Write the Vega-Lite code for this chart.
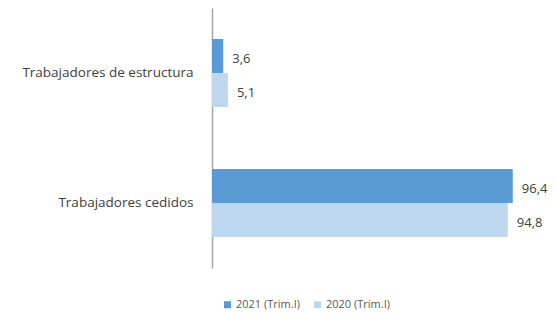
{
  "$schema": "https://vega.github.io/schema/vega-lite/v6.json",
  "autosize": {"type": "none"},
  "padding": {"left": 212, "top": 8, "right": 32, "bottom": 46},
  "width": 312,
  "height": 260,
  "background": "white",
  "config": {
    "view": {"stroke": null},
    "font": "Open Sans",
    "locale": {"number": {"decimal": ",", "thousands": ".", "grouping": [3], "currency": ["", " €"]}}
  },
  "data": {
    "values": [
      {"categoria": "Trabajadores de estructura", "serie": "2021 (Trim.I)", "valor": 3.6},
      {"categoria": "Trabajadores de estructura", "serie": "2020 (Trim.I)", "valor": 5.1},
      {"categoria": "Trabajadores cedidos", "serie": "2021 (Trim.I)", "valor": 96.4},
      {"categoria": "Trabajadores cedidos", "serie": "2020 (Trim.I)", "valor": 94.8}
    ]
  },
  "encoding": {
    "y": {
      "field": "categoria",
      "type": "nominal",
      "sort": ["Trabajadores de estructura", "Trabajadores cedidos"],
      "scale": {"paddingInner": 0.477, "paddingOuter": 0.2385},
      "axis": {
        "title": null,
        "ticks": false,
        "domainColor": "#a6a6a6",
        "domainWidth": 1.5,
        "labelPadding": 19,
        "labelFontSize": 13.5,
        "labelColor": "#404040",
        "labelLimit": 300
      }
    },
    "yOffset": {
      "field": "serie",
      "type": "nominal",
      "sort": ["2021 (Trim.I)", "2020 (Trim.I)"],
      "scale": {"paddingInner": 0, "paddingOuter": 0}
    },
    "x": {
      "field": "valor",
      "type": "quantitative",
      "scale": {"domain": [0, 100]},
      "axis": null
    }
  },
  "layer": [
    {
      "mark": {"type": "bar", "clip": false},
      "encoding": {
        "color": {
          "field": "serie",
          "type": "nominal",
          "sort": ["2021 (Trim.I)", "2020 (Trim.I)"],
          "scale": {"domain": ["2021 (Trim.I)", "2020 (Trim.I)"], "range": ["#5b9bd5", "#bdd7ee"]},
          "legend": {
            "title": null,
            "orient": "none",
            "direction": "horizontal",
            "legendX": 10,
            "legendY": 291,
            "symbolType": "square",
            "symbolSize": 49,
            "symbolStrokeWidth": 0,
            "labelFontSize": 11,
            "labelColor": "#595959",
            "columnPadding": 12,
            "labelOffset": 3
          }
        }
      }
    },
    {
      "mark": {"type": "text", "align": "left", "baseline": "middle", "dx": 9, "dy": 3, "fontSize": 13, "color": "#404040", "clip": false},
      "encoding": {
        "text": {"field": "valor", "type": "quantitative", "format": ".1f"}
      }
    }
  ]
}
